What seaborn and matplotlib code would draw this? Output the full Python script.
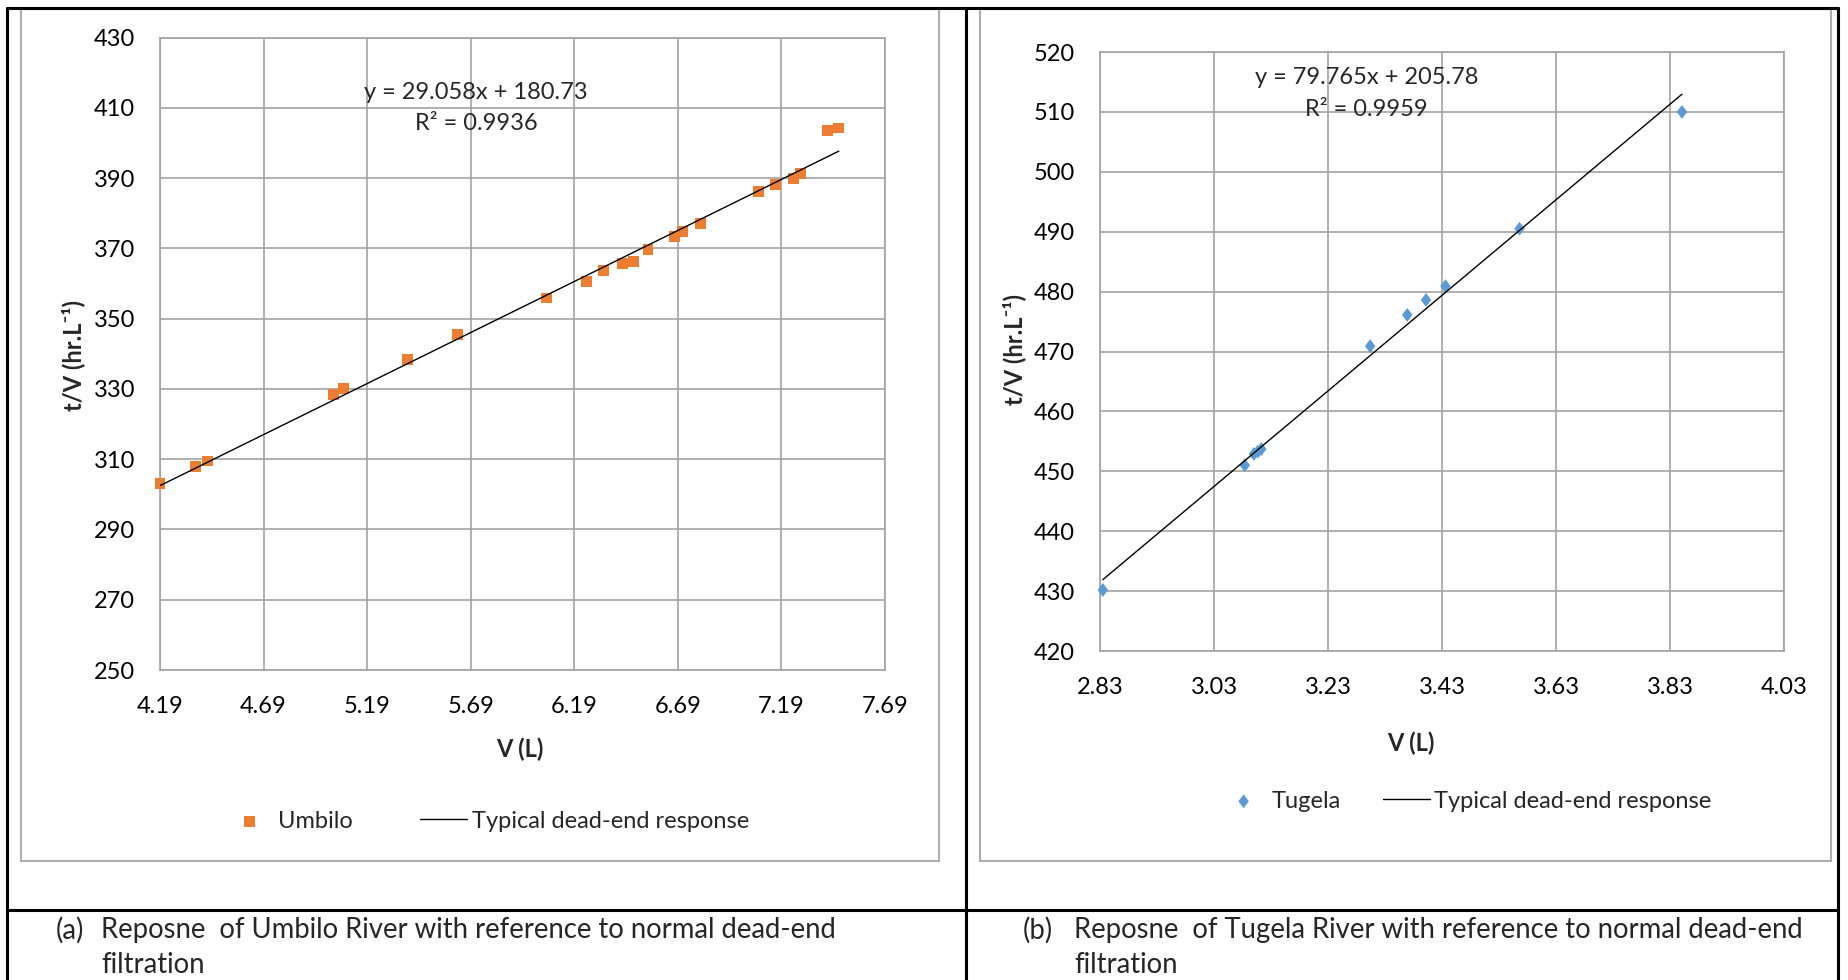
import numpy as np
import pandas as pd
import matplotlib
matplotlib.use("Agg")
import matplotlib.pyplot as plt
import seaborn as sns
from matplotlib.lines import Line2D
from matplotlib.patches import Rectangle

# ---------------- data ----------------
umbilo_v = [4.19, 4.363, 4.418, 5.028, 5.077, 5.383, 5.624, 6.054, 6.248, 6.329,
            6.423, 6.475, 6.546, 6.674, 6.714, 6.800, 7.081, 7.162, 7.248, 7.283,
            7.414, 7.467]
umbilo_tv = [303.2, 307.9, 309.5, 328.5, 330.1, 338.4, 345.4, 355.9, 360.7, 363.6,
             365.7, 366.4, 369.6, 373.4, 374.8, 377.2, 386.1, 388.1, 389.9, 391.4,
             403.6, 404.3]
umbilo_fit = [29.058, 180.73]
umbilo_r2 = 0.9936

tugela_v = [2.835, 3.084, 3.100, 3.107, 3.113, 3.304, 3.369, 3.402, 3.436, 3.566, 3.851]
tugela_tv = [430.2, 451.0, 452.9, 453.3, 453.7, 470.9, 476.1, 478.6, 480.9, 490.5, 510.0]
tugela_fit = [79.765, 205.78]
tugela_r2 = 0.9959

umbilo_xticks = [4.19, 4.69, 5.19, 5.69, 6.19, 6.69, 7.19, 7.69]
umbilo_yticks = [250, 270, 290, 310, 330, 350, 370, 390, 410, 430]
tugela_xticks = [2.83, 3.03, 3.23, 3.43, 3.63, 3.83, 4.03]
tugela_yticks = [420, 430, 440, 450, 460, 470, 480, 490, 500, 510, 520]

series_labels = ["Umbilo", "Tugela"]
trend_label = "Typical dead-end response"
xlabel = "V (L)"
ylabel = "t/V (hr.L\u207b\u00b9)"
captions_a = ["(a)", "Reposne  of Umbilo River with reference to normal dead-end", "filtration"]
captions_b = ["(b)", "Reposne  of Tugela River with reference to normal dead-end", "filtration"]

# ---------------- style ----------------
sns.set_theme(style="white")
plt.rcParams["font.family"] = ["Lato", "DejaVu Sans"]

W, H = 1849, 980
fig = plt.figure(figsize=(W / 100, H / 100), dpi=100)
fig.patch.set_facecolor("white")


def fx(px):
    return px / W


def fy(py):
    return 1 - py / H


def rect(l, t, r, b):
    return [l / W, 1 - b / H, (r - l) / W, (b - t) / H]


# table lines and chart boxes
for (l, t, r, b) in [(21, 9, 939, 861), (980, 9, 1831, 861)]:
    fig.add_artist(Rectangle((fx(l), fy(b)), fx(r - l), (b - t) / H,
                             transform=fig.transFigure, fill=False,
                             edgecolor="#ADADAD", lw=1.5))
black_lines = [((7, 1838), (8, 8)), ((7, 7), (8, 980)), ((966, 966), (8, 980)),
               ((1838, 1838), (8, 980)), ((7, 1838), (910, 910))]
for xs, ys in black_lines:
    fig.add_artist(Line2D([fx(x) for x in xs], [fy(y) for y in ys],
                          transform=fig.transFigure, color="black", lw=2.2))

GRID = "#A3A3A3"
FS = 17


def panel(box, vx, vy, fit, r2, name, marker, msize, color, xticks, yticks,
          eq_xy, xlab_xy, ylab_xy, leg_xy, colspace):
    ax = fig.add_axes(rect(*box))
    df = pd.DataFrame({"V": vx, "tV": vy})
    sns.scatterplot(data=df, x="V", y="tV", marker=marker, s=msize, color=color,
                    edgecolor="none", linewidth=0, label=name, ax=ax, zorder=3,
                    clip_on=False)
    xs = np.array([min(vx), max(vx)])
    tr = pd.DataFrame({"V": xs, "tV": fit[0] * xs + fit[1]})
    sns.lineplot(data=tr, x="V", y="tV", color="black", lw=1.0,
                 label=trend_label, ax=ax, zorder=4)
    ax.set_xlim(xticks[0], xticks[-1])
    ax.set_ylim(yticks[0], yticks[-1])
    ax.set_xticks(xticks)
    ax.set_xticklabels([f"{t:.2f}" for t in xticks])
    ax.set_yticks(yticks)
    ax.set_yticklabels([str(t) for t in yticks])
    ax.grid(True, color=GRID, lw=1.2)
    for s in ax.spines.values():
        s.set_color(GRID)
        s.set_linewidth(1.2)
    ax.tick_params(axis="both", length=0, labelsize=FS, colors="black")
    ax.tick_params(axis="x", pad=18.5)
    ax.tick_params(axis="y", pad=18)
    ax.set_xlabel(xlabel, fontsize=FS, fontweight="bold")
    ax.set_ylabel(ylabel, fontsize=FS, fontweight="bold")
    ax.xaxis.set_label_coords(*xlab_xy)
    ax.xaxis.label.set_va("center")
    ax.yaxis.set_label_coords(*ylab_xy)
    ax.yaxis.label.set_va("center")
    ax.text(eq_xy[0], eq_xy[1], f"y = {fit[0]:.3f}x + {fit[1]:.2f}",
            transform=ax.transAxes, ha="center", va="center", fontsize=FS)
    ax.text(eq_xy[0], eq_xy[2], f"R\u00b2 = {r2:.4f}",
            transform=ax.transAxes, ha="center", va="center", fontsize=FS)
    h, l = ax.get_legend_handles_labels()
    ax.legend(h, l, ncol=2, loc="center left", bbox_to_anchor=(fx(leg_xy[0]), fy(leg_xy[1])),
              bbox_transform=fig.transFigure, frameon=False, fontsize=FS,
              handlelength=2.0, handletextpad=0.2, columnspacing=colspace,
              borderpad=0, borderaxespad=0)
    return ax


diamond = [(0, 1), (0.75, 0), (0, -1), (-0.75, 0), (0, 1)]

panel((160, 37.7, 885, 670), umbilo_v, umbilo_tv, umbilo_fit, umbilo_r2,
      series_labels[0], "s", 62, "#ED7D31", umbilo_xticks, umbilo_yticks,
      (0.436, 0.914, 0.865), (0.4966, -0.125), (-0.12, 0.497), (226, 821), 2.85)
panel((1100, 52, 1784, 651), tugela_v, tugela_tv, tugela_fit, tugela_r2,
      series_labels[1], diamond, 100, "#5B9BD5", tugela_xticks, tugela_yticks,
      (0.390, 0.9566, 0.9032), (0.4547, -0.1536), (-0.1257, 0.503), (1220, 801), 1.75)

# captions
CFS = 19.8
for cap, (x0, x1) in [(captions_a, (56, 101)), (captions_b, (1023, 1074))]:
    fig.text(fx(x0), fy(930), cap[0], ha="left", va="center", fontsize=CFS)
    fig.text(fx(x1), fy(930), cap[1], ha="left", va="center", fontsize=CFS)
    fig.text(fx(x1), fy(965), cap[2], ha="left", va="center", fontsize=CFS)

fig.savefig("out.png", dpi=100, facecolor="white")
